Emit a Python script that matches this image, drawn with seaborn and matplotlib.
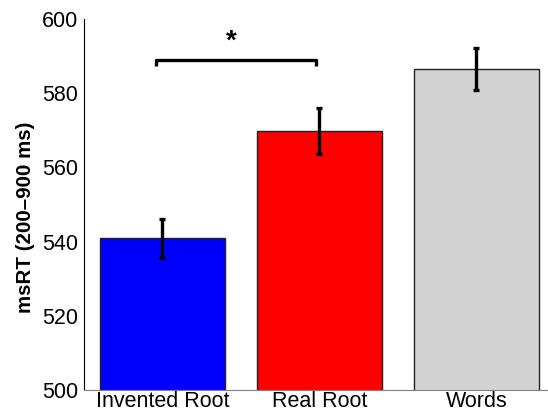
import matplotlib
matplotlib.use("Agg")
import matplotlib.pyplot as plt
import seaborn as sns

# Condition means and standard errors (ms)
conditions = ["Invented Root", "Real Root", "Words"]
means = [540.9, 569.8, 586.5]
sems = [5.2, 6.2, 5.7]
bar_colors = ["#0000FF", "#FF0000", "#D3D3D3"]
yticks = [500, 520, 540, 560, 580, 600]

sns.set_style("white")
plt.rcParams["font.family"] = ["Liberation Sans", "DejaVu Sans"]
plt.rcParams["text.color"] = "black"
plt.rcParams["axes.labelcolor"] = "black"
plt.rcParams["xtick.color"] = "black"
plt.rcParams["ytick.color"] = "black"

fig = plt.figure(figsize=(5.48, 4.18), dpi=100)
ax = fig.add_axes([0.1533, 0.067, 0.859, 0.8875])

sns.barplot(
    x=conditions,
    y=means,
    hue=conditions,
    palette=bar_colors,
    saturation=1,
    edgecolor="#222222",
    linewidth=1,
    width=0.8,
    legend=False,
    ax=ax,
)
ax.errorbar(
    x=range(len(conditions)),
    y=means,
    yerr=sems,
    fmt="none",
    ecolor="black",
    elinewidth=2.4,
    capsize=2.5,
    capthick=2.4,
)

# significance bracket between Invented Root and Real Root
ax.plot([-0.04, -0.04, 0.98, 0.98], [587.3, 589, 589, 587.3],
        color="black", lw=2.4, solid_capstyle="butt")
ax.text(0.44, 592.0, "*", ha="center", va="baseline",
        fontsize=20, fontweight="bold")

ax.set_xlim(-0.5, 2.5)
ax.set_ylim(500, 600)
ax.set_yticks(yticks)
ax.set_ylabel("msRT (200\u2013900 ms)", fontsize=14.8, fontweight="bold",
              labelpad=5)
ax.yaxis.label.set_y(0.466)
ax.tick_params(axis="both", labelsize=15.5, direction="in", length=4)
ax.tick_params(axis="y", pad=4)
ax.tick_params(axis="x", length=0, pad=1)
sns.despine(ax=ax)
ax.spines["left"].set_color("black")
ax.spines["bottom"].set_color("#808080")

fig.savefig("out.png", dpi=100)
